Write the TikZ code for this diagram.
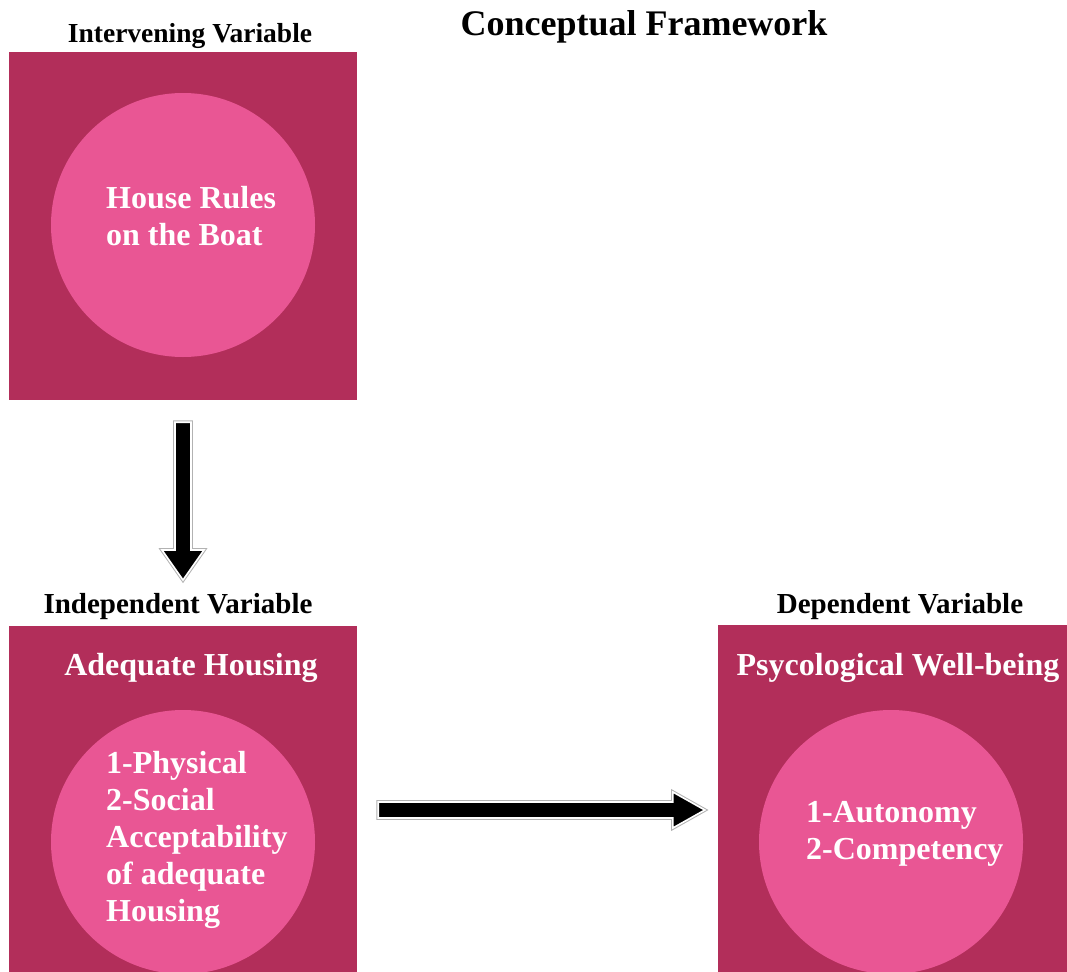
\documentclass[tikz,border=0pt]{standalone}
\usepackage{fontspec}
\setmainfont{Liberation Serif}
\usetikzlibrary{positioning}
\definecolor{boxpink}{RGB}{178,46,90}
\definecolor{discpink}{RGB}{233,86,148}

\begin{document}
\begin{tikzpicture}[x=1pt,y=-1pt,
    outerbox/.style={fill=boxpink, minimum width=348pt, minimum height=348pt, inner sep=0pt},
    disc/.style={circle, fill=discpink, minimum size=264pt, inner sep=0pt},
    heading/.style={anchor=base, inner sep=0pt, font=\bfseries\fontsize{29}{32}\selectfont},
    boxtitle/.style={anchor=base, inner sep=0pt, text=white, font=\bfseries\fontsize{32}{37}\selectfont},
    disctext/.style={anchor=north west, align=left, inner sep=0pt, text=white, font=\bfseries\fontsize{32}{37}\selectfont},
    arrowrim/.style={draw=gray!60, line width=3.6pt, line join=miter},
    arrowbody/.style={fill=black, draw=white, line width=1.6pt, line join=miter}]

  % page
  \useasboundingbox (0,0) rectangle (1067,971);
  \clip (0,0) rectangle (1067,971);

  % title
  \node[anchor=base, inner sep=0pt, font=\bfseries\fontsize{36}{40}\selectfont] (title) at (644,36) {Conceptual Framework};

  % intervening variable
  \node[heading, font=\bfseries\fontsize{27.5}{30}\selectfont] (inthead) at (190,43) {Intervening Variable};
  \node[outerbox] (intbox) at (183,226) {};
  \node[disc] (intdisc) at (183,225) {};
  \node[disctext] (inttext) at (106,186) {House Rules\\on the Boat};

  % independent variable
  \node[heading] (indhead) at (178,613) {Independent Variable};
  \node[outerbox, minimum height=368pt] (indbox) at (183,810) {};
  \node[disc] (inddisc) at (183,842) {};
  \node[boxtitle] (indtitle) at (191,675) {Adequate Housing};
  \node[disctext] (indtext) at (106,751) {1-Physical\\2-Social\\Acceptability\\of adequate\\Housing};

  % dependent variable
  \node[heading] (dephead) at (900,613) {Dependent Variable};
  \node[outerbox, minimum width=400pt, minimum height=370pt] (depbox) at (918,810) {};
  \node[disc] (depdisc) at (891,842) {};
  \node[boxtitle] (deptitle) at (898,675) {Psycological Well-being};
  \node[disctext] (deptext) at (806,801) {1-Autonomy\\2-Competency};

  % block arrows
  \coordinate (dstart) at ([yshift=-22pt]intbox.south);
  \coordinate (dtip) at (183,580);
  \coordinate (rstart) at ([xshift=21pt]indbox.east);
  \coordinate (rtip) at ([xshift=-13pt]depbox.west);

  \foreach \st in {arrowrim,arrowbody} {
    \path[\st] ([xshift=-8pt]dstart) -- ([xshift=-8pt,yshift=30pt]dtip)
      -- ([xshift=-21pt,yshift=30pt]dtip) -- (dtip)
      -- ([xshift=21pt,yshift=30pt]dtip) -- ([xshift=8pt,yshift=30pt]dtip)
      -- ([xshift=8pt]dstart) -- cycle;
    \path[\st] ([yshift=8pt]rstart) -- ([xshift=-32pt,yshift=8pt]rtip)
      -- ([xshift=-32pt,yshift=18pt]rtip) -- (rtip)
      -- ([xshift=-32pt,yshift=-18pt]rtip) -- ([xshift=-32pt,yshift=-8pt]rtip)
      -- ([yshift=-8pt]rstart) -- cycle;
  }
\end{tikzpicture}
\end{document}
